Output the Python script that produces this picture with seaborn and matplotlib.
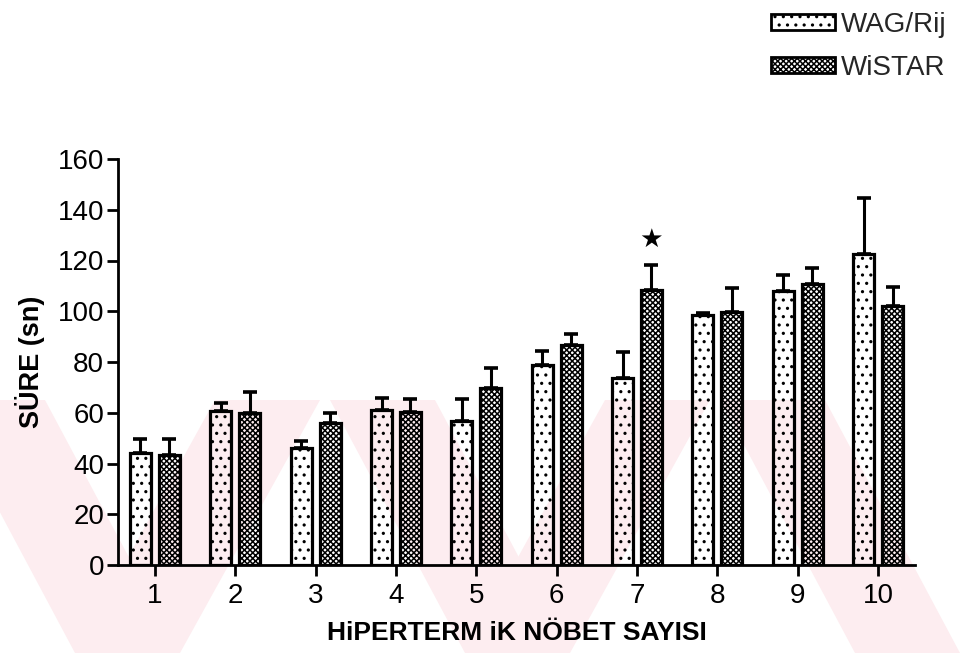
import matplotlib
matplotlib.use("Agg")
import matplotlib.pyplot as plt
import matplotlib.patches as mpatches
import seaborn as sns
import pandas as pd
import numpy as np

categories = ["1", "2", "3", "4", "5", "6", "7", "8", "9", "10"]
groups = ["WAG/Rij", "WiSTAR"]
wag_mean = [44, 60.6, 46, 61, 56.6, 78.8, 73.8, 98.5, 108, 122.4]
wag_err_top = [49.6, 63.8, 49, 66, 65.3, 84.5, 83.8, 99.3, 114.4, 144.7]
wistar_mean = [43.4, 60, 56, 60.4, 69.6, 86.6, 108.3, 99.7, 110.7, 102.2]
wistar_err_top = [49.6, 68, 60, 65.4, 77.6, 91, 118.2, 109.2, 117.2, 109.7]
y_ticks = [0, 20, 40, 60, 80, 100, 120, 140, 160]
star_category = "7"
star_value = 128

df = pd.DataFrame({
    "nobet": categories * 2,
    "grup": [groups[0]] * len(categories) + [groups[1]] * len(categories),
    "sure": wag_mean + wistar_mean,
})

sns.set_theme(style="white")
plt.rcParams["font.family"] = ["Liberation Sans", "DejaVu Sans"]
plt.rcParams["hatch.linewidth"] = 1.1

W, H = 963, 653
fig = plt.figure(figsize=(W / 100, H / 100), dpi=100)

# faint watermark bands (background decoration), given in pixel coords (y down)
wm = "#fdedf0"
bands = [
    [(-60, 400), (45, 400), (180, 653), (75, 653)],
    [(215, 400), (320, 400), (180, 653), (75, 653)],
    [(330, 400), (435, 400), (570, 653), (465, 653)],
    [(605, 400), (710, 400), (570, 653), (465, 653)],
    [(720, 400), (825, 400), (960, 653), (855, 653)],
]
for b in bands:
    pts = [(x / W, 1 - y / H) for x, y in b]
    fig.patches.append(mpatches.Polygon(pts, closed=True, transform=fig.transFigure,
                                        facecolor=wm, edgecolor="none", zorder=-5))

ax = fig.add_axes([118 / W, 1 - 565 / H, 797 / W, 406 / H])
ax.set_facecolor("none")

sns.barplot(data=df, x="nobet", y="sure", hue="grup", order=categories,
            hue_order=groups, errorbar=None, width=0.72, gap=0.28,
            palette=["white", "white"], edgecolor="black", linewidth=2.3,
            legend=False, ax=ax)

hatches = ["..", "xxxxxx"]
err_tops = [wag_err_top, wistar_err_top]
means = [wag_mean, wistar_mean]
bar_containers = list(ax.containers)
for ci, cont in enumerate(bar_containers):
    xs = []
    for bar in cont.patches:
        bar.set_hatch(hatches[ci])
        bar.set_facecolor("none")
        bar.set_zorder(3)
        xs.append(bar.get_x() + bar.get_width() / 2)
    up = np.array(err_tops[ci]) - np.array(means[ci])
    ax.errorbar(xs, means[ci], yerr=[np.zeros(len(up)), up], fmt="none",
                ecolor="black", elinewidth=2.2, capsize=5, capthick=2.6, zorder=2)
    if ci == 1:
        si = categories.index(star_category)
        ax.text(xs[si], star_value, "★", ha="center", va="center",
                fontsize=19, family=["DejaVu Sans"], color="black")

ax.set_ylim(0, 160)
ax.set_xlim(-0.46, 9.46)
ax.set_yticks(y_ticks)
ax.set_yticklabels([str(t) for t in y_ticks])
sns.despine(ax=ax)
for s in ["left", "bottom"]:
    ax.spines[s].set_color("black")
    ax.spines[s].set_linewidth(2)
ax.tick_params(axis="both", direction="out", length=8, width=2, colors="black",
               labelsize=20, pad=2, bottom=True, left=True)
ax.tick_params(axis="x", pad=5)

ax.set_xlabel("HiPERTERM iK NÖBET SAYISI", fontsize=19, fontweight="bold",
              color="black")
ax.xaxis.set_label_coords(0.5, -0.138)
ax.set_ylabel("SÜRE (sn)", fontsize=19.5, fontweight="bold", color="black")
ax.yaxis.set_label_coords(-0.092, 0.50)

handles = [mpatches.Patch(facecolor="white", edgecolor="black", hatch=h,
                          linewidth=2) for h in hatches]
leg = fig.legend(handles, groups, loc="upper right", bbox_to_anchor=(1.003, 1.012),
                 frameon=False, handlelength=2.3, handleheight=0.5,
                 labelspacing=0.62, handletextpad=0.2, borderpad=0.2,
                 prop={"size": 20})

fig.savefig("out.png", dpi=100)
